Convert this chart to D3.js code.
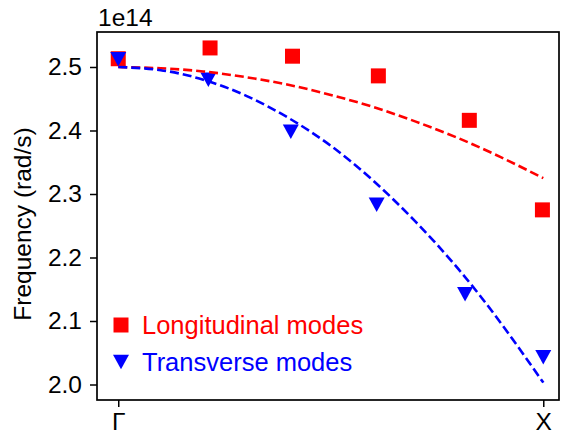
<!DOCTYPE html>
<html>
<head>
<meta charset="utf-8">
<script src="https://cdn.jsdelivr.net/npm/d3@7"></script>
<style>
  html, body { margin: 0; padding: 0; background: #fff; }
  svg text { font-family: "Liberation Sans", Arial, Helvetica, sans-serif; }
</style>
</head>
<body>
<svg id="chart" width="561" height="436"></svg>
<script>
// Wave-vector positions along Γ → X for each measured mode
const longitudinalQ = [0, 1.08, 2.05, 3.06, 4.13, 4.99];
const transverseQ   = [0, 1.06, 2.03, 3.04, 4.08, 5.0];
const xTickLabels = ["Γ", "X"];
const xTickPositions = [0, 5];

// Mode frequencies in units of 1e14 rad/s
const longitudinal = [2.513, 2.530, 2.517, 2.486, 2.416, 2.275];
const transverse   = [2.512, 2.480, 2.398, 2.283, 2.142, 2.043];

// Dispersion model curves (same units)
const curveQ = [0, 0.5, 1, 1.5, 2, 2.5, 3, 3.5, 4, 4.5, 5];
const longitudinalFit = [2.500, 2.498, 2.493, 2.484, 2.472, 2.456, 2.437, 2.414, 2.388, 2.358, 2.325];
const transverseFit   = [2.500, 2.495, 2.480, 2.455, 2.420, 2.376, 2.321, 2.256, 2.182, 2.097, 2.003];

const yTicks = [2.0, 2.1, 2.2, 2.3, 2.4, 2.5];

const RED = "#ff0000", BLUE = "#0000ff";
const FS = 24.5;      // tick labels, offset text, axis title
const FS_LEG = 25.5;  // legend entries

const svg = d3.select("#chart");
const plot = { left: 97, right: 559, top: 32, bottom: 400 };

const x = d3.scaleLinear().domain([-0.25, 5.185]).range([plot.left, plot.right]);
const y = d3.scaleLinear().domain([1.9756, 2.5551]).range([plot.bottom, plot.top]);

// Axes
const yAxis = d3.axisLeft(y).tickValues(yTicks).tickFormat(d3.format(".1f")).tickSize(7).tickPadding(8);
const xAxis = d3.axisBottom(x).tickValues(xTickPositions).tickFormat((d, i) => xTickLabels[i]).tickSize(7).tickPadding(6);

const gy = svg.append("g").attr("transform", `translate(${plot.left},0)`).call(yAxis);
const gx = svg.append("g").attr("transform", `translate(0,${plot.bottom})`).call(xAxis);
[gx, gy].forEach(g => {
  g.select(".domain").remove();
  g.selectAll(".tick line").attr("stroke", "#000").attr("stroke-width", 1.5);
  g.selectAll(".tick text").attr("fill", "#000").attr("font-size", FS);
});

// Frame
svg.append("rect")
  .attr("x", plot.left).attr("y", plot.top)
  .attr("width", plot.right - plot.left).attr("height", plot.bottom - plot.top)
  .attr("fill", "none").attr("stroke", "#000").attr("stroke-width", 1.7);

// Offset label
svg.append("text").attr("x", 98).attr("y", 26).attr("font-size", FS).text("1e14");

// Y-axis title
svg.append("text")
  .attr("transform", `translate(31,224) rotate(-90)`)
  .attr("text-anchor", "middle").attr("font-size", FS)
  .text("Frequency (rad/s)");

svg.append("clipPath").attr("id", "clip")
  .append("rect").attr("x", plot.left).attr("y", plot.top)
  .attr("width", plot.right - plot.left).attr("height", plot.bottom - plot.top);

const g = svg.append("g").attr("clip-path", "url(#clip)");

const sq = d3.symbol().type(d3.symbolSquare).size(15 * 15);
// Downward triangle, centred on its bounding box
const tri = (w, h) => `M${-w / 2},${-h / 2}L${w / 2},${-h / 2}L0,${h / 2}Z`;

g.selectAll(".long").data(longitudinal).join("path")
  .attr("class", "long")
  .attr("transform", (v, i) => `translate(${x(longitudinalQ[i])},${y(v)})`)
  .attr("d", sq).attr("fill", RED);

g.selectAll(".trans").data(transverse).join("path")
  .attr("class", "trans")
  .attr("transform", (v, i) => `translate(${x(transverseQ[i])},${y(v)})`)
  .attr("d", tri(16, 14.5)).attr("fill", BLUE);

const line = d3.line().x(d => x(d[0])).y(d => y(d[1])).curve(d3.curveNatural);

g.append("path")
  .attr("d", line(curveQ.map((q, i) => [q, longitudinalFit[i]])))
  .attr("fill", "none").attr("stroke", RED).attr("stroke-width", 2.6)
  .attr("stroke-dasharray", "9,4");

g.append("path")
  .attr("d", line(curveQ.map((q, i) => [q, transverseFit[i]])))
  .attr("fill", "none").attr("stroke", BLUE).attr("stroke-width", 2.6)
  .attr("stroke-dasharray", "9,4");

// Legend
const legend = svg.append("g");
legend.append("path").attr("transform", "translate(121,325)").attr("d", sq).attr("fill", RED);
legend.append("path").attr("transform", "translate(121,362)").attr("d", tri(16, 14.5)).attr("fill", BLUE);
legend.append("text").attr("x", 142).attr("y", 334).attr("font-size", FS_LEG).attr("fill", RED).text("Longitudinal modes");
legend.append("text").attr("x", 142).attr("y", 371).attr("font-size", FS_LEG).attr("fill", BLUE).text("Transverse modes");
</script>
</body>
</html>
